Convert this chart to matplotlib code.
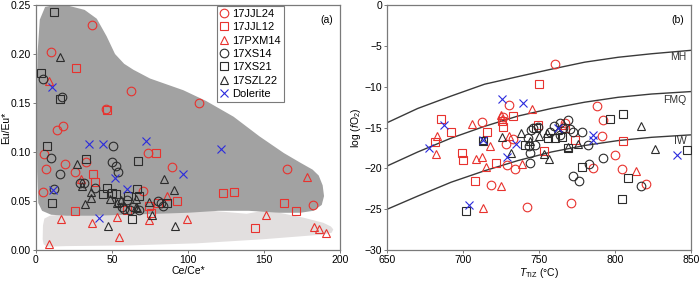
import numpy as np
import matplotlib
matplotlib.use("Agg")
import matplotlib.pyplot as plt

plt.rcParams['font.family'] = ['Liberation Sans', 'DejaVu Sans']
plt.rcParams['mathtext.fontset'] = 'custom'
plt.rcParams['mathtext.rm'] = 'Liberation Sans'
plt.rcParams['mathtext.it'] = 'Liberation Sans:italic'

# ---------- panel (a): Eu/Eu* vs Ce/Ce* ----------
jjl24_ce = [37, 9.9, 62.7, 46, 107, 17.5, 13.6, 5, 6.4, 18.9, 25.9, 33, 4.8, 74, 89.5, 70.4, 165, 182]
jjl24_eu = [0.230, 0.202, 0.1625, 0.1435, 0.150, 0.127, 0.122, 0.098, 0.083, 0.088, 0.080, 0.090,
            0.059, 0.099, 0.0845, 0.0607, 0.0824, 0.0455]
jjl12_ce = [26.3, 47, 37.3, 38.6, 79, 25.9, 123, 130.5, 163, 171, 144, 92.5, 74.6, 75.4, 59.6, 80]
jjl12_eu = [0.186, 0.143, 0.0777, 0.0695, 0.099, 0.0397, 0.0583, 0.0594, 0.048, 0.040, 0.0227,
            0.0505, 0.0444, 0.0373, 0.041, 0.048]
pxm14_ce = [8.8, 29.6, 86, 178, 151, 183, 186, 190.5, 16.2, 37, 53.5, 54.8, 8.8, 74.6, 99.6]
pxm14_eu = [0.172, 0.072, 0.055, 0.075, 0.036, 0.0234, 0.021, 0.0176, 0.032, 0.028, 0.034, 0.0136,
            0.0058, 0.0305, 0.032]
xs14_ce = [4.4, 17.3, 9.6, 15.8, 12, 29, 31.6, 38.8, 50.4, 49.8, 52.6, 53.7, 56.4, 58, 60, 61.8, 64,
           80.5, 82.2, 83.8, 68]
xs14_eu = [0.174, 0.156, 0.094, 0.078, 0.0624, 0.068, 0.068, 0.0634, 0.1065, 0.0896, 0.0862, 0.0794,
           0.044, 0.042, 0.051, 0.041, 0.044, 0.050, 0.048, 0.045, 0.041]
xs21_ce = [12, 3.5, 15.8, 7.5, 10.3, 33, 67, 46.9, 49.8, 52.6, 54.8, 60.7, 66.7, 68, 63, 43.9, 86]
xs21_eu = [0.243, 0.181, 0.154, 0.1065, 0.0475, 0.093, 0.0906, 0.0634, 0.0583, 0.0567, 0.0488,
           0.055, 0.0624, 0.055, 0.0319, 0.0567, 0.048]
szl22_ce = [15.8, 26.8, 32.2, 36, 36, 48.7, 53.5, 56, 65.8, 65.8, 66.7, 74.3, 76, 84.4, 91, 91.4, 47.6, 30]
szl22_eu = [0.197, 0.088, 0.0465, 0.059, 0.0526, 0.0516, 0.048, 0.051, 0.0516, 0.044, 0.043, 0.0488,
            0.036, 0.072, 0.061, 0.025, 0.025, 0.065]
dol_ce = [10.3, 35, 44, 72.4, 122, 96.7, 52, 59.6, 11.4, 41.7]
dol_eu = [0.166, 0.1085, 0.1085, 0.111, 0.1035, 0.078, 0.073, 0.0624, 0.061, 0.033]

# background fields (outline)
dark_x = [1.0, 2.5, 6, 12, 22, 32, 40, 46.5, 52, 58, 64, 75, 86, 97, 112, 130, 147, 163, 174, 182,
          186, 188.6, 189.5, 188, 182.5, 174, 160, 140, 120, 100, 80, 60, 40, 20, 10, 4, 1.5, 0.8, 0.5]
dark_y = [0.20, 0.235, 0.248, 0.250, 0.249, 0.245, 0.236, 0.218, 0.200, 0.190, 0.184, 0.175, 0.169,
          0.163, 0.152, 0.136, 0.116, 0.099, 0.089, 0.082, 0.076, 0.066, 0.055, 0.046, 0.040, 0.038,
          0.038, 0.040, 0.040, 0.038, 0.037, 0.036, 0.035, 0.035, 0.036, 0.040, 0.048, 0.08, 0.14]
light_x = [5.5, 9.2, 40, 100, 138.6, 149.6, 158, 176, 189, 194, 195.6, 194.5, 188, 182.5, 149.6,
           105.7, 61.8, 20, 7, 5, 4.4, 4.6]
light_y = [0.032, 0.035, 0.040, 0.042, 0.037, 0.040, 0.0387, 0.033, 0.0278, 0.024, 0.021, 0.0176,
           0.0155, 0.015, 0.011, 0.0068, 0.0047, 0.0040, 0.0034, 0.006, 0.011, 0.025]

# ---------- panel (b): log fO2 vs T ----------
jjl24_t = [760.5, 730.4, 712.2, 788.4, 792.3, 791.2, 799.6, 804.8, 820.2, 785.7, 770.8, 742.3, 734.1,
           728.6, 718.3, 728, 733, 726, 767]
jjl24_f = [-7.2, -12.3, -14.3, -12.4, -14.1, -16.1, -18.4, -20.1, -21.9, -19.9, -24.3, -24.7, -20.1,
           -19.6, -22.0, -17.0, -16.4, -13.7, -14.4]
jjl12_t = [750.2, 685.2, 691.7, 681.4, 699, 700.1, 707.8, 721.6, 715.9, 733, 725.8, 726.4, 749.5,
           753.2, 773.7, 805.5, 767.1]
jjl12_f = [-9.7, -13.9, -15.6, -16.8, -18.1, -19.0, -21.5, -19.4, -15.5, -13.6, -14.2, -14.9, -14.7,
           -17.9, -16.5, -16.6, -15.1]
pxm14_t = [745.5, 724.9, 706, 682.5, 681.9, 708.2, 712.2, 717.7, 715, 738.5, 730.4, 724.9, 712.8,
           813.8, 766, 725.5]
pxm14_f = [-12.7, -13.5, -14.6, -16.0, -18.2, -18.9, -18.6, -17.3, -19.8, -19.5, -16.1, -22.2, -24.8,
           -20.3, -14.7, -14.0]
xs14_t = [768.8, 746.2, 749.5, 743.3, 744, 744, 772.6, 775.9, 782.9, 791.7, 817.1, 778.5, 782, 772.6,
          766, 763.8, 742.9, 747.3, 744.7, 760, 764, 770, 757]
xs14_f = [-14.1, -15.1, -14.9, -17.3, -18.1, -19.3, -20.9, -21.6, -19.5, -18.7, -22.2, -15.6, -17.1,
          -15.6, -15.0, -15.9, -16.3, -17.1, -15.3, -14.8, -14.5, -15.2, -15.6]
xs21_t = [701.6, 778.5, 804.4, 808.4, 796.7, 805.1, 847.2, 740.7, 756.1, 760.5, 768.8, 747.7, 765.3, 713.3]
xs21_f = [-25.2, -19.8, -23.8, -21.2, -14.0, -13.3, -17.7, -17.2, -16.3, -16.3, -17.5, -15.0, -16.2, -16.7]
szl22_t = [725.8, 731.5, 738.1, 749.9, 753.4, 756.7, 762.7, 769.3, 775.8, 817.1, 826.4, 713.3, 755, 744]
szl22_f = [-16.2, -18.1, -15.7, -16.1, -18.2, -18.9, -15.35, -17.4, -17.0, -14.8, -17.6, -16.5, -15.7, -16.6]
dol_t = [677.7, 687.6, 712.8, 725.3, 739.6, 734.8, 728.6, 703.8, 762.2, 785.3, 785.3, 840.6]
dol_f = [-17.5, -14.7, -16.5, -11.5, -12.0, -17.0, -18.6, -24.5, -15.0, -15.9, -16.5, -18.4]

# buffer curves
buf_t = [650, 670, 692, 714, 736, 758, 780, 802, 824, 850]
mh_f = [-14.4, -12.67, -11.15, -9.7, -8.77, -7.86, -7.0, -6.4, -5.97, -5.55]
fmq_f = [-19.7, -18.0, -16.3, -14.86, -13.6, -12.67, -11.9, -11.3, -10.9, -10.6]
iw_f = [-25.0, -23.4, -21.7, -20.3, -19.05, -18.0, -17.2, -16.6, -16.2, -15.9]

red = '#e8322e'
blk = '#2b2b2b'
blue = '#2b2bdd'
frame = '#7a7a7a'
ms = 6.2
mew = 0.8

styles = [
    ('17JJL24', 'o', red),
    ('17JJL12', 's', red),
    ('17PXM14', '^', red),
    ('17XS14', 'o', blk),
    ('17XS21', 's', blk),
    ('17SZL22', '^', blk),
    ('Dolerite', 'x', blue),
]

fig = plt.figure(figsize=(7.0, 2.81), dpi=100)
ax1 = fig.add_axes([0.0514, 0.1103, 0.4343, 0.8719])
ax2 = fig.add_axes([0.5533, 0.1103, 0.4339, 0.8719])

ax1.fill(light_x, light_y, color='#e2dfdf', lw=0, zorder=0)
ax1.fill(dark_x, dark_y, color='#a2a2a2', lw=0, zorder=1)

left_sets = [(jjl24_ce, jjl24_eu), (jjl12_ce, jjl12_eu), (pxm14_ce, pxm14_eu),
             (xs14_ce, xs14_eu), (xs21_ce, xs21_eu), (szl22_ce, szl22_eu), (dol_ce, dol_eu)]
right_sets = [(jjl24_t, jjl24_f), (jjl12_t, jjl12_f), (pxm14_t, pxm14_f),
              (xs14_t, xs14_f), (xs21_t, xs21_f), (szl22_t, szl22_f), (dol_t, dol_f)]

for (name, mk, c), (xv, yv) in zip(styles, left_sets):
    ax1.plot(xv, yv, ls='none', marker=mk, ms=ms, mfc='none', mec=c, mew=mew, label=name, zorder=3)
for (name, mk, c), (xv, yv) in zip(styles, right_sets):
    ax2.plot(xv, yv, ls='none', marker=mk, ms=ms, mfc='none', mec=c, mew=mew, zorder=3)

for fv in (mh_f, fmq_f, iw_f):
    ax2.plot(buf_t, fv, color='#3a3a3a', lw=1.0, zorder=2)
ax2.text(847, -6.4, 'MH', ha='right', va='center', fontsize=7.5, color='#333333')
ax2.text(847, -11.6, 'FMQ', ha='right', va='center', fontsize=7.5, color='#333333')
ax2.text(847, -16.6, 'IW', ha='right', va='center', fontsize=7.5, color='#333333')

ax1.set_xlim(0, 200)
ax1.set_ylim(0, 0.25)
ax1.set_xticks([0, 50, 100, 150, 200])
ax1.set_yticks([0, 0.05, 0.10, 0.15, 0.20, 0.25])
ax1.set_yticklabels(['0.00', '0.05', '0.10', '0.15', '0.20', '0.25'])
ax1.set_xlabel('Ce/Ce*', fontsize=7.5, labelpad=1)
ax1.set_ylabel('Eu/Eu*', fontsize=7.5, labelpad=0)
ax1.text(0.955, 0.94, '(a)', transform=ax1.transAxes, ha='center', va='center', fontsize=7.5)

ax2.set_xlim(650, 850)
ax2.set_ylim(-30, 0)
ax2.set_xticks([650, 700, 750, 800, 850])
ax2.set_yticks([-30, -25, -20, -15, -10, -5, 0])
ax2.set_xlabel(r'$\mathit{T}_{\mathrm{TiZ}}$ (°C)', fontsize=7.5, labelpad=1)
ax2.set_ylabel(r'log ($\mathit{f}$O$_2$)', fontsize=7.5, labelpad=1)
ax2.text(0.955, 0.94, '(b)', transform=ax2.transAxes, ha='center', va='center', fontsize=7.5)

for ax in (ax1, ax2):
    for sp in ax.spines.values():
        sp.set_color(frame)
        sp.set_linewidth(0.9)
    ax.tick_params(direction='out', length=2, width=0.7, color=frame, labelsize=7.5, pad=1.5)

leg = ax1.legend(loc='upper left', bbox_to_anchor=(0.596, 0.995), fontsize=8, frameon=True,
                 fancybox=False, edgecolor=frame, framealpha=1, borderpad=0.25, labelspacing=0.3,
                 handlelength=0.8, handletextpad=0.3, borderaxespad=0.0)
leg.get_frame().set_linewidth(0.8)

fig.savefig('out.png', dpi=100)
